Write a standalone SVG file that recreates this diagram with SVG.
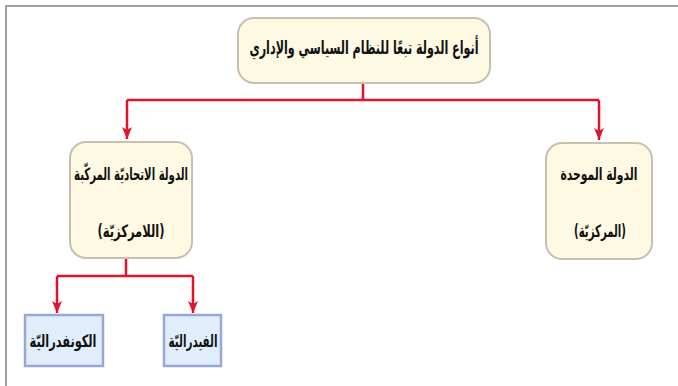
<svg xmlns="http://www.w3.org/2000/svg" width="678" height="386" viewBox="0 0 678 386">
<defs>
<style>
.frame{stroke:#a0a0a0;stroke-width:2;fill:none}
.cream{fill:#fdf9e2;stroke:#cbbfb2;stroke-width:2}
.blue{fill:#dfeefa;stroke:#9ba6d8;stroke-width:2.5}
.conn{stroke:#e3132b;stroke-width:2.5;fill:none}
text{font-family:"DejaVu Sans Condensed","DejaVu Sans",sans-serif;font-weight:bold;fill:#111;text-anchor:middle;direction:rtl}
</style>
<marker id="ah" markerWidth="12" markerHeight="10" refX="12" refY="5" orient="auto" markerUnits="userSpaceOnUse" viewBox="0 0 12 10">
<path d="M0,0 L12,5 L0,10 L3,5 Z" fill="#e3132b"/>
</marker>
</defs>
<rect width="678" height="386" fill="#fff"/>
<path class="frame" d="M6,386 V6 H678"/>
<g id="connectors">
<path class="conn" d="M363,83 V100"/>
<path class="conn" d="M127,100 H599"/>
<path class="conn" d="M127,100 V139" marker-end="url(#ah)"/>
<path class="conn" d="M599,100 V140" marker-end="url(#ah)"/>
<path class="conn" d="M126,258 V276"/>
<path class="conn" d="M57,276 H193"/>
<path class="conn" d="M57,276 V313" marker-end="url(#ah)"/>
<path class="conn" d="M193,276 V313" marker-end="url(#ah)"/>
</g>
<g id="root">
<rect class="cream" x="238" y="18" width="252" height="65" rx="16"/>
<text x="364" y="54" font-size="19" textLength="229" lengthAdjust="spacingAndGlyphs">أنواع الدولة تبعًا للنظام السياسي والإداري</text>
</g>
<g id="federal-state">
<rect class="cream" x="70" y="142" width="122" height="116" rx="16"/>
<text x="131" y="180" font-size="17" textLength="114" lengthAdjust="spacingAndGlyphs">الدولة الاتحاديّة المركّبة</text>
<text x="131" y="237" font-size="17" textLength="67" lengthAdjust="spacingAndGlyphs">(اللامركزيّة)</text>
</g>
<g id="unitary-state">
<rect class="cream" x="546" y="143" width="106" height="116" rx="16"/>
<text x="599" y="180" font-size="17" textLength="77" lengthAdjust="spacingAndGlyphs">الدولة الموحدة</text>
<text x="600" y="237" font-size="17" textLength="52" lengthAdjust="spacingAndGlyphs">(المركزيّة)</text>
</g>
<g id="confederal">
<rect class="blue" x="25" y="315" width="78" height="51"/>
<text x="63" y="347" font-size="17" textLength="67" lengthAdjust="spacingAndGlyphs">الكونفدراليّة</text>
</g>
<g id="federal">
<rect class="blue" x="164" y="315" width="57" height="51"/>
<text x="193" y="347" font-size="17" textLength="49" lengthAdjust="spacingAndGlyphs">الفيدراليّة</text>
</g>
</svg>
